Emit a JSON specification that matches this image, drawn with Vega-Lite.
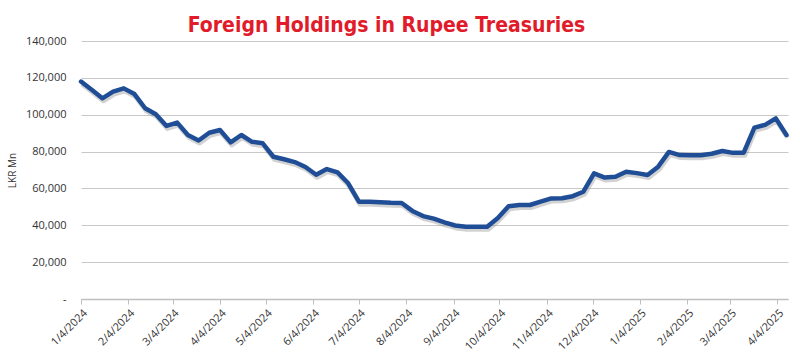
{
  "$schema": "https://vega.github.io/schema/vega-lite/v6.json",
  "width": 707,
  "height": 258,
  "autosize": {"type": "none"},
  "padding": {"left": 81, "top": 41, "right": 12, "bottom": 53},
  "background": "white",
  "title": {
    "text": "Foreign Holdings in Rupee Treasuries",
    "font": "'DejaVu Sans Condensed', 'Roboto', sans-serif",
    "fontWeight": "bold",
    "fontSize": 21,
    "color": "#E11B2A",
    "anchor": "middle",
    "dx": -48,
    "offset": 0,
    "dy": 1
  },
  "data": {
    "values": [
      {"date": "2024-01-04T00:00:00", "value": 118000},
      {"date": "2024-01-11T00:00:00", "value": 113500},
      {"date": "2024-01-18T00:00:00", "value": 108900},
      {"date": "2024-01-25T00:00:00", "value": 112500},
      {"date": "2024-02-01T00:00:00", "value": 114300},
      {"date": "2024-02-08T00:00:00", "value": 111200},
      {"date": "2024-02-15T00:00:00", "value": 103500},
      {"date": "2024-02-22T00:00:00", "value": 100300},
      {"date": "2024-02-29T00:00:00", "value": 93900},
      {"date": "2024-03-07T00:00:00", "value": 95700},
      {"date": "2024-03-14T00:00:00", "value": 89000},
      {"date": "2024-03-21T00:00:00", "value": 86000},
      {"date": "2024-03-28T00:00:00", "value": 90200},
      {"date": "2024-04-04T00:00:00", "value": 91700},
      {"date": "2024-04-11T00:00:00", "value": 85000},
      {"date": "2024-04-18T00:00:00", "value": 89000},
      {"date": "2024-04-25T00:00:00", "value": 85300},
      {"date": "2024-05-02T00:00:00", "value": 84500},
      {"date": "2024-05-09T00:00:00", "value": 77200},
      {"date": "2024-05-16T00:00:00", "value": 75800},
      {"date": "2024-05-23T00:00:00", "value": 74300},
      {"date": "2024-05-30T00:00:00", "value": 71600},
      {"date": "2024-06-06T00:00:00", "value": 67400},
      {"date": "2024-06-13T00:00:00", "value": 70500},
      {"date": "2024-06-20T00:00:00", "value": 68700},
      {"date": "2024-06-27T00:00:00", "value": 62800},
      {"date": "2024-07-04T00:00:00", "value": 52800},
      {"date": "2024-07-11T00:00:00", "value": 52800},
      {"date": "2024-07-18T00:00:00", "value": 52500},
      {"date": "2024-07-25T00:00:00", "value": 52200},
      {"date": "2024-08-01T00:00:00", "value": 52100},
      {"date": "2024-08-08T00:00:00", "value": 47800},
      {"date": "2024-08-15T00:00:00", "value": 45000},
      {"date": "2024-08-22T00:00:00", "value": 43600},
      {"date": "2024-08-29T00:00:00", "value": 41600},
      {"date": "2024-09-05T00:00:00", "value": 39900},
      {"date": "2024-09-12T00:00:00", "value": 39200},
      {"date": "2024-09-19T00:00:00", "value": 39200},
      {"date": "2024-09-26T00:00:00", "value": 39200},
      {"date": "2024-10-03T00:00:00", "value": 44000},
      {"date": "2024-10-10T00:00:00", "value": 50300},
      {"date": "2024-10-17T00:00:00", "value": 51000},
      {"date": "2024-10-24T00:00:00", "value": 51000},
      {"date": "2024-10-31T00:00:00", "value": 52800},
      {"date": "2024-11-07T00:00:00", "value": 54600},
      {"date": "2024-11-14T00:00:00", "value": 54700},
      {"date": "2024-11-21T00:00:00", "value": 55800},
      {"date": "2024-11-28T00:00:00", "value": 58200},
      {"date": "2024-12-05T00:00:00", "value": 68200},
      {"date": "2024-12-12T00:00:00", "value": 65900},
      {"date": "2024-12-19T00:00:00", "value": 66300},
      {"date": "2024-12-26T00:00:00", "value": 69100},
      {"date": "2025-01-02T00:00:00", "value": 68300},
      {"date": "2025-01-09T00:00:00", "value": 67300},
      {"date": "2025-01-16T00:00:00", "value": 71800},
      {"date": "2025-01-23T00:00:00", "value": 79800},
      {"date": "2025-01-30T00:00:00", "value": 78100},
      {"date": "2025-02-06T00:00:00", "value": 78000},
      {"date": "2025-02-13T00:00:00", "value": 78000},
      {"date": "2025-02-20T00:00:00", "value": 78800},
      {"date": "2025-02-27T00:00:00", "value": 80300},
      {"date": "2025-03-06T00:00:00", "value": 79300},
      {"date": "2025-03-13T00:00:00", "value": 79400},
      {"date": "2025-03-20T00:00:00", "value": 93000},
      {"date": "2025-03-27T00:00:00", "value": 94500},
      {"date": "2025-04-03T00:00:00", "value": 98000},
      {"date": "2025-04-10T00:00:00", "value": 89000}
    ]
  },
  "encoding": {
    "x": {
      "field": "date",
      "type": "temporal",
      "scale": {
        "domain": [
          {"year": 2024, "month": 1, "date": 4},
          {"year": 2025, "month": 4, "date": 11}
        ]
      },
      "axis": {
        "title": null,
        "grid": false,
        "format": "%-m/%-d/%Y",
        "labelAngle": -45,
        "labelFont": "Open Sans",
        "labelFontSize": 11,
        "labelColor": "#333333",
        "labelPadding": 3,
        "labelOverlap": false,
        "labelFlush": false,
        "domainColor": "#BFBFBF",
        "domainWidth": 1.5,
        "tickColor": "#BFBFBF",
        "tickSize": 5,
        "values": [
          {"year": 2024, "month": 1, "date": 4},
          {"year": 2024, "month": 2, "date": 4},
          {"year": 2024, "month": 3, "date": 4},
          {"year": 2024, "month": 4, "date": 4},
          {"year": 2024, "month": 5, "date": 4},
          {"year": 2024, "month": 6, "date": 4},
          {"year": 2024, "month": 7, "date": 4},
          {"year": 2024, "month": 8, "date": 4},
          {"year": 2024, "month": 9, "date": 4},
          {"year": 2024, "month": 10, "date": 4},
          {"year": 2024, "month": 11, "date": 4},
          {"year": 2024, "month": 12, "date": 4},
          {"year": 2025, "month": 1, "date": 4},
          {"year": 2025, "month": 2, "date": 4},
          {"year": 2025, "month": 3, "date": 4},
          {"year": 2025, "month": 4, "date": 4}
        ]
      }
    },
    "y": {
      "field": "value",
      "type": "quantitative",
      "scale": {"domain": [0, 140000]},
      "axis": {
        "title": "LKR Mn",
        "titleFont": "Open Sans",
        "titleFontSize": 10,
        "titleFontWeight": "normal",
        "titleColor": "#333333",
        "titlePadding": 8,
        "values": [0, 20000, 40000, 60000, 80000, 100000, 120000, 140000],
        "labelExpr": "datum.value == 0 ? '-\u00a0\u00a0\u00a0' : format(datum.value, ',')",
        "labelFont": "Open Sans",
        "labelFontSize": 11,
        "labelColor": "#333333",
        "labelPadding": 15,
        "ticks": false,
        "domain": false,
        "gridColor": "#C8C8C8",
        "gridWidth": 1.2
      }
    }
  },
  "layer": [
    {
      "mark": {
        "type": "line",
        "color": "#7F7F7F",
        "strokeWidth": 5,
        "opacity": 0.35,
        "xOffset": 1,
        "yOffset": 2.5,
        "strokeJoin": "round"
      }
    },
    {
      "mark": {
        "type": "line",
        "color": "#1F4E96",
        "strokeWidth": 4.5,
        "strokeJoin": "round",
        "strokeCap": "round"
      }
    }
  ],
  "config": {
    "view": {"stroke": null}
  }
}
